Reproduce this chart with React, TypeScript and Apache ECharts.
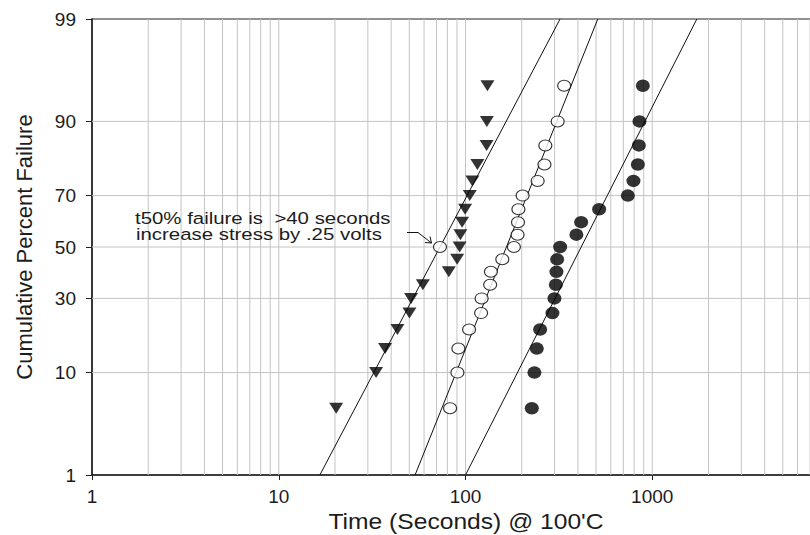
import React, { useEffect, useRef } from "react";
import * as echarts from "echarts";

// ---------- data ----------
const failurePercent = [5, 10, 15, 20, 25, 30, 35, 40, 45, 50, 55, 60, 65, 70, 75, 80, 85, 90, 95];
const timesTriangle = [20.3, 33.2, 37.1, 43.2, 50.1, 51.1, 59.1, 81.4, 90.2, 93.0, 93.9, 95.9, 99.5, 105.4, 108.9, 115.8, 129.7, 130.1, 131.1];
const timesOpen = [82.7, 90.5, 91.6, 104.5, 121.2, 122.0, 135.5, 136.8, 157.4, 181.6, 190, 191, 192, 202.2, 243.4, 264.7, 267.6, 311.5, 337.5];
const timesFilled = [226.5, 233.9, 240.9, 250.9, 292.1, 299.4, 304.6, 306.9, 309.5, 321.2, 392.3, 416.2, 519.5, 740.0, 793.1, 837.4, 847.7, 854.2, 890.5];

// fitted lines: time at 1% and at 99%
const fitPercents = [1, 99];
const fitTriangle = [16.6, 321];
const fitOpen = [53.7, 511];
const fitFilled = [100, 1733];

// annotation point (t50 of first fit)
const annotationPoint = [73, 50];

const yTickPercents = [1, 10, 30, 50, 70, 90, 99];
const yGridPercents = [10, 30, 50, 70, 90];
const xMin = 1;
const xMax = 10000;
const xMinorGrid: number[] = [];
for (let dec = 1; dec < xMax; dec *= 10) {
  for (let m = 2; m <= 9; m++) xMinorGrid.push(m * dec);
}
xMinorGrid.push(10, 100, 1000);

const annotationLines = ["t50% failure is  >40 seconds", "increase stress by .25 volts"];
const xTitle = "Time (Seconds) @ 100'C";
const yTitle = "Cumulative Percent Failure";

// ---------- normal probability scale ----------
function invNorm(p: number): number {
  const a = [-3.969683028665376e1, 2.209460984245205e2, -2.759285104469687e2, 1.38357751867269e2, -3.066479806614716e1, 2.506628277459239];
  const b = [-5.447609879822406e1, 1.615858368580409e2, -1.556989798598866e2, 6.680131188771972e1, -1.328068155288572e1];
  const c = [-7.784894002430293e-3, -3.223964580411365e-1, -2.400758277161838, -2.549671033042333, 4.374664141464968, 2.938163982698783];
  const d = [7.784695709041462e-3, 3.224671290700398e-1, 2.445134137142996, 3.754408661907416];
  const pl = 0.02425;
  const ph = 1 - pl;
  if (p < pl) {
    const q = Math.sqrt(-2 * Math.log(p));
    return (((((c[0] * q + c[1]) * q + c[2]) * q + c[3]) * q + c[4]) * q + c[5]) / ((((d[0] * q + d[1]) * q + d[2]) * q + d[3]) * q + 1);
  }
  if (p <= ph) {
    const q = p - 0.5;
    const r = q * q;
    return ((((((a[0] * r + a[1]) * r + a[2]) * r + a[3]) * r + a[4]) * r + a[5]) * q) / (((((b[0] * r + b[1]) * r + b[2]) * r + b[3]) * r + b[4]) * r + 1);
  }
  const q = Math.sqrt(-2 * Math.log(1 - p));
  return -(((((c[0] * q + c[1]) * q + c[2]) * q + c[3]) * q + c[4]) * q + c[5]) / ((((d[0] * q + d[1]) * q + d[2]) * q + d[3]) * q + 1);
}
const probit = (pct: number) => invNorm(pct / 100);

const FONT = '"Liberation Sans", Arial, Helvetica, sans-serif';
const TEXT = "#1c1c1c";
const GRID = "#c4c4c4";
const ELLIPSE = "path://M0,5A6,5 0 1,1 12,5A6,5 0 1,1 0,5Z";

export default function App() {
  const ref = useRef<HTMLDivElement>(null);

  useEffect(() => {
    if (!ref.current) return;
    const chart = echarts.init(ref.current, undefined, { renderer: "svg" });
    const yMax = probit(yTickPercents[yTickPercents.length - 1]);
    const yMin = probit(yTickPercents[0]);

    const pts = (times: number[]) => times.map((t, i) => [t, probit(failurePercent[i])]);
    const fit = (times: number[]) => times.map((t, i) => [t, probit(fitPercents[i])]);

    const option: any = {
      animation: false,
      backgroundColor: "#fff",
      grid: {
        left: 92,
        top: 19,
        width: 747,
        height: 456,
        show: true,
        borderColor: "#222",
        borderWidth: 1.2,
        backgroundColor: "transparent",
        containLabel: false,
        outerBoundsMode: "none",
      },
      xAxis: {
        type: "log",
        logBase: 10,
        min: xMin,
        max: xMax,
        axisLine: { show: true, onZero: false, lineStyle: { color: "#222", width: 1.5 } },
        axisTick: { show: true, length: 5, lineStyle: { color: "#222" } },
        splitLine: { show: false },
        minorTick: { show: false },
        axisLabel: {
          fontSize: 19,
          fontFamily: FONT,
          color: TEXT,
          margin: 12,
          formatter: (v: number) => (v >= xMax ? "" : String(Math.round(v))),
        },
      },
      yAxis: {
        type: "value",
        min: yMin,
        max: yMax,
        axisLine: { show: true, onZero: false, lineStyle: { color: "#222", width: 1.5 } },
        axisTick: {
          show: true,
          length: 6,
          lineStyle: { color: "#222" },
          customValues: yTickPercents.map(probit),
        },
        splitLine: { show: false },
        axisLabel: {
          fontSize: 19,
          fontFamily: FONT,
          color: TEXT,
          margin: 16,
          customValues: yTickPercents.map(probit),
          formatter: (v: number) => {
            const p = yTickPercents.find((q) => Math.abs(probit(q) - v) < 1e-6);
            return p === undefined ? "" : String(p);
          },
        },
      },
      series: [
        {
          type: "custom",
          z: 1,
          silent: true,
          data: xMinorGrid.map((v) => [v, 0]),
          renderItem: (params: any, api: any) => {
            const x = api.coord([api.value(0), 0])[0];
            const cs = params.coordSys;
            return {
              type: "line",
              shape: { x1: x, y1: cs.y, x2: x, y2: cs.y + cs.height },
              style: { stroke: GRID, lineWidth: 1 },
            };
          },
        },
        {
          type: "custom",
          z: 1,
          silent: true,
          data: yGridPercents.map((p) => [1, probit(p)]),
          renderItem: (params: any, api: any) => {
            const y = api.coord([1, api.value(1)])[1];
            const cs = params.coordSys;
            return {
              type: "line",
              shape: { x1: cs.x, y1: y, x2: cs.x + cs.width, y2: y },
              style: { stroke: GRID, lineWidth: 1 },
            };
          },
        },
        ...[fitTriangle, fitOpen, fitFilled].map((f) => ({
          type: "line",
          z: 3,
          silent: true,
          symbol: "none",
          data: fit(f),
          lineStyle: { color: "#111", width: 1 },
        })),
        {
          type: "scatter",
          z: 4,
          symbol: "triangle",
          symbolRotate: 180,
          symbolSize: [14, 11],
          data: pts(timesTriangle),
          itemStyle: { color: "#000" },
        },
        {
          type: "scatter",
          z: 4,
          symbol: ELLIPSE,
          symbolSize: [13, 11],
          data: pts(timesOpen),
          itemStyle: { color: "#fff", borderColor: "#000", borderWidth: 1.1 },
        },
        {
          type: "scatter",
          z: 4,
          symbol: ELLIPSE,
          symbolSize: [14, 12.5],
          data: pts(timesFilled),
          itemStyle: { color: "#000" },
        },
        {
          type: "scatter",
          z: 5,
          symbol: ELLIPSE,
          symbolSize: [13, 11],
          data: [[annotationPoint[0], probit(annotationPoint[1])]],
          itemStyle: { color: "#fff", borderColor: "#000", borderWidth: 1.1 },
        },
      ],
      graphic: [
        {
          type: "text",
          x: 135,
          y: 218.4,
          scaleX: 1.2,
          z: 10,
          style: { text: annotationLines[0], font: `17px ${FONT}`, fill: TEXT, align: "left", verticalAlign: "middle" },
        },
        {
          type: "text",
          x: 136,
          y: 234.1,
          scaleX: 1.2,
          z: 10,
          style: { text: annotationLines[1], font: `17px ${FONT}`, fill: TEXT, align: "left", verticalAlign: "middle" },
        },
        {
          type: "polyline",
          z: 10,
          shape: { points: [[407, 232.5], [418, 232.5], [431.5, 243]] },
          style: { stroke: "#111", lineWidth: 1, fill: null },
        },
        {
          type: "polyline",
          z: 10,
          shape: { points: [[425, 242.5], [431.5, 243], [430, 236.5]] },
          style: { stroke: "#111", lineWidth: 1, fill: null },
        },
        {
          type: "text",
          x: 24,
          y: 247,
          rotation: Math.PI / 2,
          z: 10,
          style: { text: yTitle, font: `22px ${FONT}`, fill: TEXT, align: "center", verticalAlign: "middle" },
        },
        {
          type: "text",
          x: 466,
          y: 521,
          scaleX: 1.12,
          z: 10,
          style: { text: xTitle, font: `22px ${FONT}`, fill: TEXT, align: "center", verticalAlign: "middle" },
        },
      ],
    };
    chart.setOption(option);
    return () => chart.dispose();
  }, []);

  return (
    <div style={{ position: "fixed", left: 0, top: 0, width: 810, height: 535, overflow: "hidden", background: "#fff" }}>
      <div ref={ref} style={{ width: 900, height: 535 }} />
    </div>
  );
}
